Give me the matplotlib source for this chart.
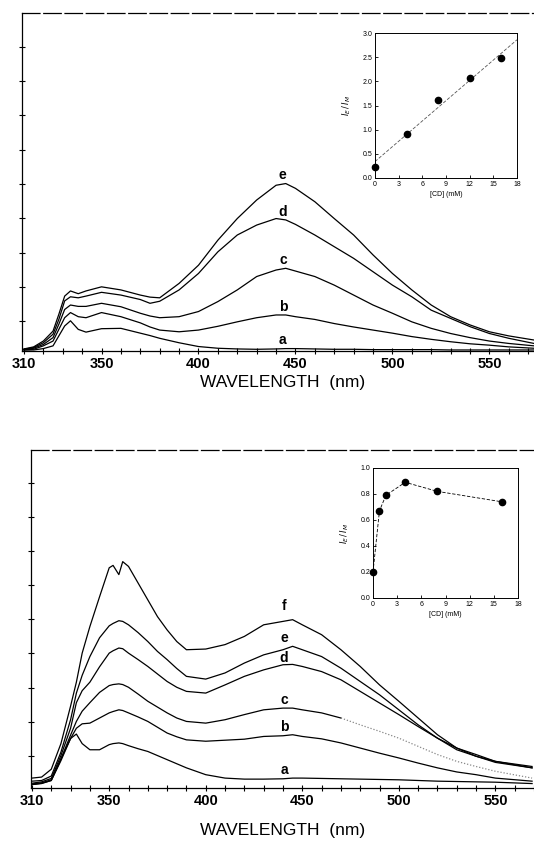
import numpy as np
import matplotlib
matplotlib.use("Agg")
from matplotlib import pyplot as plt

# --------------------------
# DATA
# --------------------------

# top panel: emission spectra a-e (arbitrary intensity units, 1 unit = 1 tick)
wl_top = [310, 315, 320, 325, 328, 331, 334, 338, 342, 350, 360, 370, 375, 380,
          390, 400, 410, 420, 430, 440, 445, 450, 460, 470, 480, 490, 500, 510,
          520, 530, 540, 550, 560, 573]
top_a = [0.03, 0.03, 0.07, 0.15, 0.44, 0.73, 0.88, 0.63, 0.55, 0.65, 0.66, 0.52,
         0.45, 0.37, 0.24, 0.13, 0.08, 0.06, 0.05, 0.06, 0.07, 0.07, 0.06, 0.05,
         0.05, 0.04, 0.04, 0.04, 0.04, 0.03, 0.03, 0.03, 0.03, 0.03]
top_b = [0.03, 0.05, 0.15, 0.29, 0.63, 0.97, 1.12, 1.00, 0.97, 1.12, 1.00, 0.82,
         0.70, 0.61, 0.56, 0.61, 0.72, 0.85, 0.97, 1.05, 1.05, 1.00, 0.92, 0.80,
         0.70, 0.61, 0.52, 0.42, 0.34, 0.27, 0.21, 0.17, 0.12, 0.08]
top_c = [0.04, 0.08, 0.19, 0.39, 0.78, 1.21, 1.34, 1.30, 1.30, 1.39, 1.29, 1.10,
         1.02, 0.97, 1.00, 1.15, 1.44, 1.78, 2.17, 2.36, 2.41, 2.33, 2.17, 1.92,
         1.63, 1.34, 1.10, 0.85, 0.66, 0.51, 0.39, 0.29, 0.22, 0.15]
top_d = [0.05, 0.10, 0.24, 0.49, 0.92, 1.46, 1.58, 1.55, 1.60, 1.71, 1.63, 1.50,
         1.39, 1.45, 1.78, 2.26, 2.89, 3.38, 3.67, 3.86, 3.82, 3.69, 3.38, 3.04,
         2.70, 2.31, 1.92, 1.58, 1.19, 0.95, 0.71, 0.51, 0.37, 0.22]
top_e = [0.06, 0.12, 0.29, 0.58, 1.07, 1.60, 1.75, 1.67, 1.75, 1.87, 1.78, 1.63,
         1.57, 1.55, 1.97, 2.50, 3.23, 3.86, 4.40, 4.83, 4.88, 4.74, 4.35, 3.86,
         3.38, 2.80, 2.26, 1.78, 1.34, 1.00, 0.76, 0.56, 0.44, 0.32]
top_names = ["a", "b", "c", "d", "e"]
top_label_y = [0.32, 1.29, 2.65, 4.04, 5.13]
top_label_x = 443.5

# bottom panel: emission spectra a-f
wl_bot = [310, 315, 320, 325, 330, 333, 336, 340, 345, 350, 352, 355, 357, 360,
          365, 370, 375, 380, 385, 390, 400, 410, 420, 430, 440, 445, 450, 460,
          470, 480, 490, 500, 510, 520, 530, 540, 550, 569]
bot_a = [0.10, 0.14, 0.22, 0.85, 1.45, 1.58, 1.30, 1.12, 1.12, 1.27, 1.30, 1.32,
         1.30, 1.24, 1.15, 1.07, 0.95, 0.83, 0.71, 0.59, 0.39, 0.29, 0.26, 0.26,
         0.27, 0.29, 0.29, 0.28, 0.27, 0.26, 0.25, 0.24, 0.22, 0.20, 0.19, 0.18,
         0.17, 0.13]
bot_b = [0.10, 0.13, 0.22, 0.80, 1.45, 1.75, 1.88, 1.90, 2.05, 2.20, 2.24, 2.29,
         2.27, 2.20, 2.08, 1.95, 1.78, 1.61, 1.50, 1.41, 1.37, 1.40, 1.43, 1.51,
         1.53, 1.56, 1.51, 1.44, 1.32, 1.17, 1.02, 0.88, 0.73, 0.59, 0.47, 0.39,
         0.29, 0.20]
bot_c = [0.12, 0.15, 0.24, 0.85, 1.55, 1.95, 2.25, 2.50, 2.80, 3.00, 3.03, 3.05,
         3.03, 2.95, 2.75, 2.54, 2.37, 2.20, 2.05, 1.95, 1.90, 2.00, 2.15, 2.29,
         2.34, 2.34, 2.29, 2.20, 2.05, 1.85, 1.66, 1.46, 1.22, 0.98, 0.78, 0.63,
         0.49, 0.29]
bot_d = [0.14, 0.18, 0.28, 0.95, 1.75, 2.50, 2.85, 3.10, 3.55, 3.95, 4.02, 4.10,
         4.08, 3.95, 3.76, 3.56, 3.34, 3.12, 2.95, 2.83, 2.78, 3.02, 3.27, 3.46,
         3.61, 3.62, 3.56, 3.41, 3.17, 2.83, 2.49, 2.15, 1.80, 1.46, 1.17, 0.98,
         0.78, 0.59]
bot_e = [0.20, 0.22, 0.35, 1.05, 2.00, 2.78, 3.30, 3.85, 4.40, 4.75, 4.82, 4.90,
         4.88, 4.78, 4.55, 4.29, 4.00, 3.76, 3.50, 3.27, 3.19, 3.37, 3.66, 3.90,
         4.05, 4.15, 4.05, 3.85, 3.51, 3.12, 2.73, 2.29, 1.85, 1.46, 1.12, 0.93,
         0.75, 0.59]
bot_f = [0.29, 0.32, 0.55, 1.30, 2.40, 3.10, 3.95, 4.73, 5.60, 6.45, 6.52, 6.25,
         6.63, 6.49, 6.00, 5.51, 5.02, 4.63, 4.29, 4.05, 4.07, 4.20, 4.44, 4.78,
         4.88, 4.93, 4.78, 4.49, 4.05, 3.56, 3.02, 2.54, 2.05, 1.56, 1.17, 0.93,
         0.78, 0.63]
bot_names = ["a", "b", "c", "d", "e", "f"]
bot_label_y = [0.54, 1.79, 2.59, 3.80, 4.39, 5.32]
bot_label_x = 440.5
faint_from = 472  # curve c turns into a faint dotted trace beyond here

# insets
cd_top = [0, 4, 8, 12, 16]
ratio_top = [0.23, 0.92, 1.62, 2.07, 2.48]
fit_intercept, fit_slope = 0.34, 0.14

cd_bot = [0, 0.8, 1.6, 4, 8, 16]
ratio_bot = [0.20, 0.67, 0.79, 0.89, 0.82, 0.74]

xticks_main = list(range(310, 571, 10))
xlabels_main = ["310", "350", "400", "450", "500", "550"]

# --------------------------
# PLOT
# --------------------------

plt.rcParams['font.family'] = ['Liberation Sans', 'DejaVu Sans']

fig = plt.figure(figsize=(5.34, 8.49), dpi=100)
W, H = 534.0, 849.0


def main_axes(rect_px, xlim, ylim, ytick0):
    l, t, r, b = rect_px
    ax = fig.add_axes([l / W, 1 - b / H, (r - l) / W, (b - t) / H])
    ax.set_xlim(*xlim)
    ax.set_ylim(*ylim)
    ax.spines['right'].set_visible(False)
    ax.spines['top'].set_linestyle((0, (14, 3)))
    for s in ax.spines.values():
        s.set_linewidth(0.9)
    ax.set_xticks(xticks_main)
    ax.set_xticklabels([str(t) if str(t) in xlabels_main else ""
                        for t in xticks_main])
    ax.set_yticks(np.arange(ytick0, ylim[1], 1.0))
    ax.set_yticklabels([])
    ax.tick_params(direction='inout', length=5, width=0.8)
    ax.tick_params(axis='x', labelsize=10.5, pad=2)
    for lab in ax.get_xticklabels():
        lab.set_fontweight('bold')
    return ax


def inset_axes(rect_px, ymax, ystep, ylab_fmt):
    l, t, r, b = rect_px
    ax = fig.add_axes([l / W, 1 - b / H, (r - l) / W, (b - t) / H])
    ax.set_xlim(0, 18)
    ax.set_ylim(0, ymax)
    ax.set_xticks(range(0, 19, 3))
    ax.set_yticks(np.arange(0, ymax + 1e-6, ystep))
    ax.set_yticklabels([ylab_fmt % v for v in np.arange(0, ymax + 1e-6, ystep)])
    ax.tick_params(direction='in', length=2, width=0.6, labelsize=5, pad=2)
    for s in ax.spines.values():
        s.set_linewidth(0.7)
    ax.set_xlabel("[CD] (mM)", fontsize=5, labelpad=2)
    ax.set_ylabel(r"$I_E\,/\,I_M$", fontsize=6, labelpad=7)
    return ax


# top panel
ax1 = main_axes((22, 13, 534, 351), (309, 573), (0, 9.85), 0.87)
for ys in [top_a, top_b, top_c, top_d, top_e]:
    ax1.plot(wl_top, ys, color='black', lw=0.9)
for name, yl in zip(top_names, top_label_y):
    ax1.text(top_label_x, yl, name, ha='center', va='center',
             fontsize=10, fontweight='bold')
fig.text(283 / W, 1 - 383 / H, "WAVELENGTH  (nm)", ha='center', va='center',
         fontsize=12.5)

# bottom panel
ax2 = main_axes((31, 450, 534, 788), (309.5, 569), (0, 9.9), 0.94)
for name, ys in zip(bot_names, [bot_a, bot_b, bot_c, bot_d, bot_e, bot_f]):
    if name == "c":
        wl = np.array(wl_bot)
        yy = np.array(ys)
        solid = wl <= faint_from
        ax2.plot(wl[solid], yy[solid], color='black', lw=0.9)
        k = solid.sum() - 1
        ax2.plot(wl[k:], yy[k:], color='#888888', lw=0.9, ls=(0, (1, 1.5)))
    else:
        ax2.plot(wl_bot, ys, color='black', lw=0.9)
for name, yl in zip(bot_names, bot_label_y):
    ax2.text(bot_label_x, yl, name, ha='center', va='center',
             fontsize=10, fontweight='bold')
fig.text(283 / W, 1 - 830 / H, "WAVELENGTH  (nm)", ha='center', va='center',
         fontsize=12.5)

# insets
in1 = inset_axes((375, 33, 517, 178), 3.0, 0.5, "%.1f")
fx = np.array([0, 18])
in1.plot(fx, fit_intercept + fit_slope * fx, color='#555555', lw=0.6,
         ls=(0, (4, 2)))
in1.plot(cd_top, ratio_top, 'o', color='black', ms=4.5, clip_on=False)

in2 = inset_axes((373, 468, 518, 598), 1.0, 0.2, "%.1f")
in2.plot(cd_bot, ratio_bot, '-', color='black', lw=0.6, dashes=(4, 2))
in2.plot(cd_bot, ratio_bot, 'o', color='black', ms=4.5, clip_on=False)

fig.savefig("out.png", dpi=100)
